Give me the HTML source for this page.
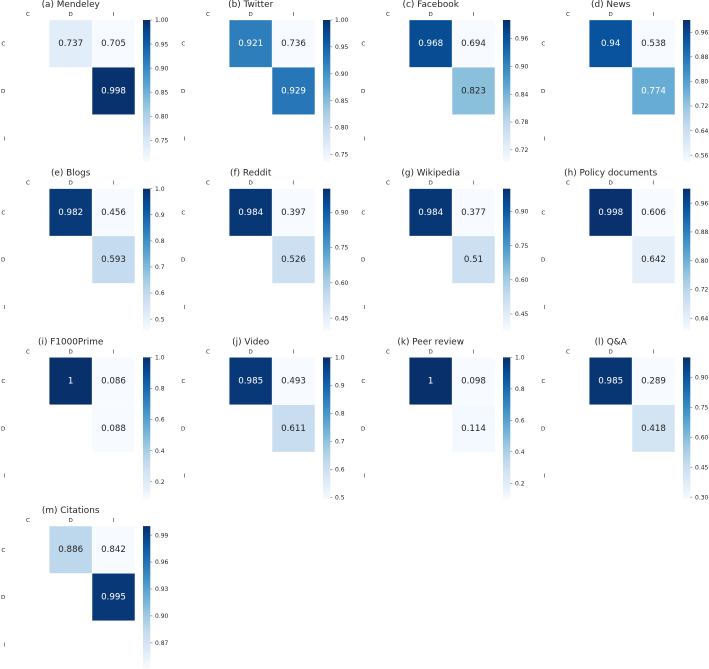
<!DOCTYPE html>
<html lang="en">
<head>
<meta charset="utf-8">
<title>Heatmap panels</title>
<style>
html,body{margin:0;padding:0;background:#fff;}
#chart{display:block;width:709px;height:669px;filter:blur(0.3px);}
text{font-family:"DejaVu Sans","Liberation Sans",sans-serif;}
</style>
</head>
<body>
<svg id="chart" xmlns="http://www.w3.org/2000/svg" width="709" height="669" viewBox="0 0 709 669"></svg>
<script>
const panelTitles = ["(a) Mendeley","(b) Twitter","(c) Facebook","(d) News","(e) Blogs","(f) Reddit","(g) Wikipedia","(h) Policy documents","(i) F1000Prime","(j) Video","(k) Peer review","(l) Q&A","(m) Citations"];
const categories = ["C","D","I"];
const cellRows = [0,0,1];
const cellCols = [1,2,2];
const valuesMendeley = [0.737,0.705,0.998];
const valuesTwitter = [0.921,0.736,0.929];
const valuesFacebook = [0.968,0.694,0.823];
const valuesNews = [0.94,0.538,0.774];
const valuesBlogs = [0.982,0.456,0.593];
const valuesReddit = [0.984,0.397,0.526];
const valuesWikipedia = [0.984,0.377,0.51];
const valuesPolicy = [0.998,0.606,0.642];
const valuesF1000 = [1,0.086,0.088];
const valuesVideo = [0.985,0.493,0.611];
const valuesPeer = [1,0.098,0.114];
const valuesQA = [0.985,0.289,0.418];
const valuesCitations = [0.886,0.842,0.995];
const panelValues = [valuesMendeley,valuesTwitter,valuesFacebook,valuesNews,valuesBlogs,valuesReddit,valuesWikipedia,valuesPolicy,valuesF1000,valuesVideo,valuesPeer,valuesQA,valuesCitations];
const ticksMendeley = ["0.75","0.80","0.85","0.90","0.95","1.00"];
const ticksTwitter = ["0.75","0.80","0.85","0.90","0.95","1.00"];
const ticksFacebook = ["0.72","0.78","0.84","0.90","0.96"];
const ticksNews = ["0.56","0.64","0.72","0.80","0.88","0.96"];
const ticksBlogs = ["0.5","0.6","0.7","0.8","0.9","1.0"];
const ticksReddit = ["0.45","0.60","0.75","0.90"];
const ticksWikipedia = ["0.45","0.60","0.75","0.90"];
const ticksPolicy = ["0.64","0.72","0.80","0.88","0.96"];
const ticksF1000 = ["0.2","0.4","0.6","0.8","1.0"];
const ticksVideo = ["0.5","0.6","0.7","0.8","0.9","1.0"];
const ticksPeer = ["0.2","0.4","0.6","0.8","1.0"];
const ticksQA = ["0.30","0.45","0.60","0.75","0.90"];
const ticksCitations = ["0.87","0.90","0.93","0.96","0.99"];
const panelTicks = [ticksMendeley,ticksTwitter,ticksFacebook,ticksNews,ticksBlogs,ticksReddit,ticksWikipedia,ticksPolicy,ticksF1000,ticksVideo,ticksPeer,ticksQA,ticksCitations];
const scaleMax = 1;
const blues = ["#f7fbff","#deebf7","#c6dbef","#9ecae1","#6baed6","#4292c6","#2171b5","#08519c","#08306b"];

const NS = "http://www.w3.org/2000/svg";
const svg = document.getElementById("chart");
const LEFT = 6.5, TOP = 20, COL_STEP = 180, ROW_STEP = 168.7;
const CELL_W = 42.8, CELL_H = 47.3;
const BAR_X = 143, BAR_W = 7.3;

function make(tag, attrs, parent, content) {
  const el = document.createElementNS(NS, tag);
  for (const k in attrs) el.setAttribute(k, attrs[k]);
  if (content !== undefined) el.textContent = content;
  parent.appendChild(el);
  return el;
}
function hexToRgb(h) {
  return [parseInt(h.slice(1,3),16), parseInt(h.slice(3,5),16), parseInt(h.slice(5,7),16)];
}
function blueColor(t) {
  const c = Math.max(0, Math.min(1, t)) * (blues.length - 1);
  const i = Math.min(blues.length - 2, Math.floor(c));
  const f = c - i;
  const a = hexToRgb(blues[i]), b = hexToRgb(blues[i+1]);
  return [0,1,2].map(function(k){ return Math.round(a[k] + (b[k]-a[k]) * f); });
}
function luminance(rgb) {
  const v = rgb.map(function(x){
    const s = x / 255;
    return s <= 0.03928 ? s / 12.92 : Math.pow((s + 0.055) / 1.055, 2.4);
  });
  return 0.2126*v[0] + 0.7152*v[1] + 0.0722*v[2];
}

const defs = make("defs", {}, svg);
const grad = make("linearGradient", {id:"blues-gradient", x1:0, y1:1, x2:0, y2:0}, defs);
blues.forEach(function(c, i){
  make("stop", {offset: i / (blues.length - 1), "stop-color": c}, grad);
});

panelTitles.forEach(function(title, p) {
  const ox = LEFT + COL_STEP * (p % 4);
  const oy = TOP + ROW_STEP * Math.floor(p / 4);
  const values = panelValues[p];
  const vmin = Math.min.apply(null, values);
  const colorT = function(v){ return (v - vmin) / (scaleMax - vmin); };
  const xCenter = function(c){ return ox + CELL_W * (c + 0.5); };
  const yCenter = function(r){ return oy + CELL_H * (r + 0.5); };
  const barH = CELL_H * 3;
  const barY = function(v){ return oy + barH * (1 - colorT(v)); };

  const g = make("g", {}, svg);
  
  

  const t = make("text", {x: ox + CELL_W * 1.5, y: oy - 13, "text-anchor":"middle", "font-size":8.9, fill:"#262626"}, g, title);
  
  

  categories.forEach(function(cat, i) {
    const xl = make("text", {x: xCenter(i), y: oy - 4, "text-anchor":"middle", "font-size":5.6, fill:"#262626"}, g, cat);
    
    
    const yl = make("text", {x: ox - 1.2, y: yCenter(i) + 2, "text-anchor":"end", "font-size":5.6, fill:"#262626"}, g, cat);
    
    
  });

  values.forEach(function(v, i) {
    const r = cellRows[i], c = cellCols[i];
    const rgb = blueColor(colorT(v));
    const rect = make("rect", {x: ox + CELL_W * c, y: oy + CELL_H * r, width: CELL_W, height: CELL_H, fill: "rgb(" + rgb.join(",") + ")", stroke:"#ffffff", "stroke-opacity":0.6, "stroke-width":0.5}, g);
    
    
    const label = make("text", {x: xCenter(c), y: yCenter(r) + 2.4, "text-anchor":"middle", "font-size":8.7, fill: luminance(rgb) < 0.408 ? "#ffffff" : "#262626"}, g, String(v));
    
    
  });

  const bar = make("rect", {x: ox - LEFT + BAR_X, y: oy, width: BAR_W, height: barH, fill: "url(#blues-gradient)"}, g);
  
  

  panelTicks[p].forEach(function(tick) {
    const y = barY(Number(tick));
    const bx = ox - LEFT + BAR_X + BAR_W;
    const mark = make("line", {x1: bx, x2: bx + 2, y1: y, y2: y, stroke:"#555555", "stroke-width":0.5}, g);
    
    
    const tl = make("text", {x: bx + 4.7, y: y + 2.2, "font-size":6, fill:"#262626"}, g, tick);
    
    
  });
});
</script>
</body>
</html>
